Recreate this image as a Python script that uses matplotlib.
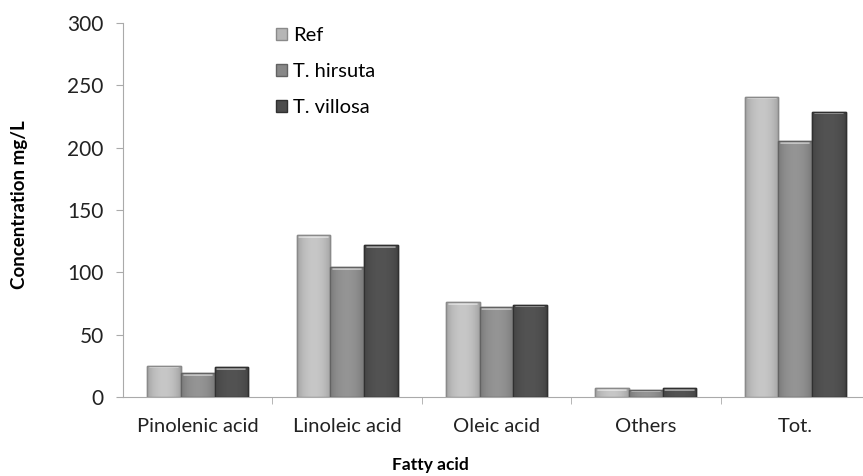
import matplotlib
matplotlib.use('Agg')
import matplotlib.pyplot as plt
import numpy as np
from matplotlib.colors import to_rgb

categories = ['Pinolenic acid', 'Linoleic acid', 'Oleic acid', 'Others', 'Tot.']
series = ['Ref', 'T. hirsuta', 'T. villosa']
ref = [25, 130, 76, 7, 241]
hirsuta = [19, 104, 72, 6, 205]
villosa = [24, 122, 74, 7, 229]

colors = ['#b6b6b6', '#888888', '#4c4c4c']
edges = ['#8a8a8a', '#626262', '#303030']

plt.rcParams['font.family'] = ['Lato', 'DejaVu Sans']

fig = plt.figure(figsize=(8.63, 4.76), dpi=100)
ax = fig.add_axes([123 / 863, 1 - 397 / 476, 747 / 863, 374 / 476])

x = np.arange(len(categories))
width = 0.225
# soft bevel: darker at the sides, lighter a bit left of centre
t = np.linspace(0, 1, 40)
shade = 0.82 + 0.22 * np.sin(np.pi * t) ** 0.6
for i, (vals, name) in enumerate(zip([ref, hirsuta, villosa], series)):
    bars = ax.bar(x + (i - 1) * width, vals, width, color=colors[i],
                  edgecolor=edges[i], linewidth=1.0, label=name, zorder=3)
    base = np.array(to_rgb(colors[i]))
    grad = np.clip(base[None, None, :] * shade[None, :, None] * 1.05, 0, 1)
    for b in bars:
        x0, w, h = b.get_x(), b.get_width(), b.get_height()
        im = ax.imshow(grad, extent=(x0, x0 + w, 0, h), aspect='auto',
                       zorder=3.5, interpolation='bilinear')
        im.set_clip_path(b)
        # light rim along the top
        ax.plot([x0 + w * 0.08, x0 + w * 0.92], [h - 1.3, h - 1.3],
                color='white', alpha=0.55, lw=1.2, zorder=4,
                solid_capstyle='round')
        ax.bar(x0 + w / 2, h, w, fill=False, edgecolor=edges[i],
               linewidth=1.0, zorder=4.5)

ax.set_xlim(-0.5, len(categories) - 0.5)
ax.set_ylim(0, 300)
ax.set_yticks(range(0, 301, 50))

ax.set_xticks(x, categories)
ax.tick_params(axis='x', which='major', length=0, pad=15, labelsize=14.5, colors='#222222')
ax.set_xticks(np.arange(0.5, len(categories) - 0.5, 1), minor=True)
ax.tick_params(axis='x', which='minor', length=5, color='#aaaaaa')
ax.tick_params(axis='y', length=5, color='#aaaaaa', labelsize=15, colors='#222222', pad=9)

for s in ['top', 'right']:
    ax.spines[s].set_visible(False)
for s in ['left', 'bottom']:
    ax.spines[s].set_color('#aaaaaa')

fig.text(20 / 863, 1 - 205 / 476, 'Concentration mg/L', fontsize=13.5,
         fontweight='bold', rotation=90, ha='center', va='center')
fig.text(430 / 863, 1 - 465 / 476, 'Fatty acid', fontsize=12.5,
         fontweight='bold', ha='center', va='center')

ax.legend(loc='upper left', bbox_to_anchor=(272 / 863, 1 - 23 / 476),
          bbox_transform=fig.transFigure, frameon=False, fontsize=14.5,
          handlelength=0.55, handleheight=0.55, handletextpad=0.3,
          labelspacing=0.95, borderaxespad=0, borderpad=0.2)

fig.savefig('out.png', dpi=100)
